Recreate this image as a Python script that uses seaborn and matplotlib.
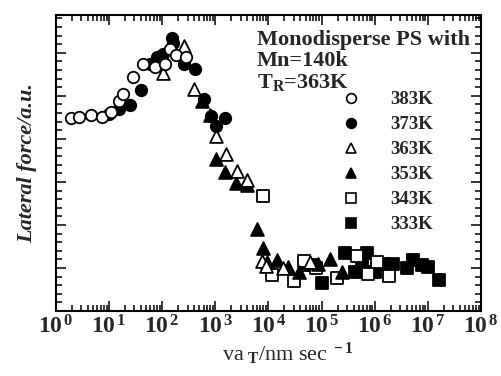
import numpy as np
import matplotlib
matplotlib.use("Agg")
import matplotlib.pyplot as plt
import seaborn as sns
from matplotlib.lines import Line2D
from matplotlib.ticker import (FixedLocator, FuncFormatter, MultipleLocator,
                               NullFormatter)

# Reduced velocity v*a_T (nm/s) and lateral force (a.u.) for each measuring temperature
v_383 = [1.89, 2.75, 4.56, 7.35, 10.8, 15.1, 18.5, 27.8, 44, 72, 111, 140, 181, 280]
f_383 = [4.48, 4.50, 4.56, 4.52, 4.63, 4.89, 5.04, 5.43, 5.74, 5.66, 5.73, 6.09, 5.96, 5.91]

v_373 = [10.1, 15.1, 24.7, 40.3, 58.8, 78.6, 102, 151, 157, 253, 408, 611, 817, 1014, 1517]
f_373 = [4.58, 4.69, 4.79, 5.14, 5.74, 5.91, 5.98, 6.34, 6.23, 5.73, 5.63, 4.92, 4.53, 4.29, 4.48]

v_363 = [102, 253, 401, 1028, 1585, 2520, 3990, 7450, 8970, 18750, 60400]
f_363 = [5.54, 6.16, 5.16, 4.07, 3.66, 3.26, 3.05, 1.17, 1.05, 1.00, 1.14]

v_353 = [553, 792, 1028, 1517, 2445, 3940, 5995, 7780, 9250, 14650, 23600, 38000,
         85500, 143800, 238800]
f_353 = [4.87, 4.56, 3.53, 3.23, 2.98, 2.92, 1.90, 1.46, 1.15, 1.19, 1.03, 0.91,
         1.09, 1.21, 0.91]

v_343 = [7980, 11480, 30600, 47200, 78300, 192300, 457000, 755000, 1.09e6, 1.88e6]
f_343 = [2.67, 0.84, 0.69, 1.16, 1.00, 0.76, 1.29, 0.85, 1.15, 0.81]

v_333 = [52400, 69700, 101600, 275000, 424000, 568000, 706000, 1.01e6, 1.43e6,
         2.24e6, 4.0e6, 5.31e6, 7.65e6, 1.02e7, 1.64e7]
f_333 = [1.07, 1.07, 0.65, 1.35, 0.90, 1.09, 1.35, 0.90, 1.10, 1.10, 0.99, 1.19,
         1.07, 1.03, 0.72]

temps = ["383K", "373K", "363K", "353K", "343K", "333K"]
markers = ["o", "o", "^", "^", "s", "s"]
faces = ["white", "black", "white", "black", "white", "black"]
sizes = [68, 68, 85, 85, 68, 68]
series = [(v_383, f_383), (v_373, f_373), (v_363, f_363),
          (v_353, f_353), (v_343, f_343), (v_333, f_333)]

decades = list(range(0, 9))
header = ["Monodisperse PS with", "Mn=140k", r"$\mathbf{T_R}$=363K"]

sns.set_style("ticks")
plt.rcParams["font.family"] = ["Liberation Serif", "DejaVu Serif"]
plt.rcParams["font.weight"] = "bold"
plt.rcParams["mathtext.fontset"] = "custom"
plt.rcParams["mathtext.rm"] = "Liberation Serif:bold"
plt.rcParams["mathtext.bf"] = "Liberation Serif:bold"
plt.rcParams["mathtext.it"] = "Liberation Serif:bold:italic"
plt.rcParams["mathtext.default"] = "rm"

fig = plt.figure(figsize=(5.02, 3.76), dpi=100)
ax = fig.add_axes([56 / 502, 65 / 376, 425 / 502, 296 / 376])

draw_order = [5, 4, 3, 2, 1, 0]
for i in draw_order:
    x, y = series[i]
    sns.scatterplot(x=x, y=y, ax=ax, marker=markers[i], s=sizes[i],
                    facecolor=faces[i], edgecolor="black", linewidth=1.3,
                    zorder=3 + (6 - i), legend=False)

ax.set_xscale("log")
ax.set_xlim(10.0 ** decades[0], 10.0 ** decades[-1])
ax.set_ylim(0, 6.88)

major_x = [10.0 ** d for d in decades]
minor_x = [m * 10.0 ** d for d in decades[:-1] for m in range(2, 10)]
ax.xaxis.set_major_locator(FixedLocator(major_x))
ax.xaxis.set_minor_locator(FixedLocator(minor_x))
ax.xaxis.set_minor_formatter(NullFormatter())
ax.xaxis.set_major_formatter(FuncFormatter(
    lambda v, pos: r"$10^{\,%d}$" % int(round(np.log10(v)))))
ax.yaxis.set_major_locator(MultipleLocator(1))
ax.yaxis.set_minor_locator(MultipleLocator(0.2))
ax.yaxis.set_major_formatter(NullFormatter())

ax.tick_params(which="both", direction="in", top=True, right=True, color="black",
               width=1.1)
ax.tick_params(which="major", length=7, labelsize=17, pad=3)
ax.tick_params(which="minor", length=4)
for sp in ax.spines.values():
    sp.set_linewidth(1.5)
    sp.set_color("black")

ax.set_xlabel(r"va$_{\ \mathbf{T}}$/nm sec$^{\ -1}$", fontsize=16)
ax.xaxis.set_label_coords(0.545, -0.10)
ax.set_ylabel("Lateral force/a.u.", fontsize=16, fontstyle="italic",
              fontweight="bold", labelpad=10)

for k, line in enumerate(header):
    ax.text(257 / 502, (376 - 45 - 21.5 * k) / 376, line, transform=fig.transFigure,
            fontsize=16, fontweight="bold", ha="left", va="baseline")

handles = [Line2D([], [], linestyle="none", marker=markers[i],
                  markerfacecolor=faces[i], markeredgecolor="black",
                  markeredgewidth=1.2, markersize=7) for i in range(6)]
ax.legend(handles, temps, loc="upper left", frameon=False,
          bbox_to_anchor=(342 / 502, (376 - 91) / 376),
          bbox_transform=fig.transFigure, fontsize=13.5, handlelength=1.0,
          handletextpad=1.6, labelspacing=0.42, borderpad=0, borderaxespad=0)

fig.savefig("out.png", dpi=100)
